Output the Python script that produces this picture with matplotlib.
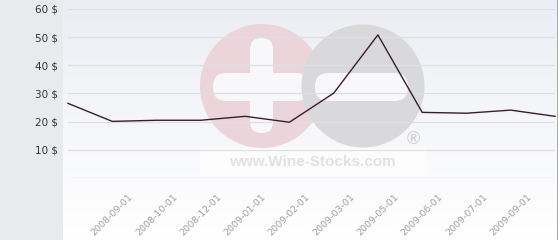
import numpy as np
import matplotlib
matplotlib.use("Agg")
import matplotlib.pyplot as plt
from matplotlib.patches import Circle, FancyBboxPatch, Rectangle

# ---- data ----
tick_labels = ['', '2008-09-01', '2008-10-01', '2008-12-01', '2009-01-01', '2009-02-01',
               '2009-03-01', '2009-05-01', '2009-06-01', '2009-07-01', '2009-09-01', '']
prices = [26.5, 20.1, 20.5, 20.5, 21.9, 19.8, 30.1, 50.8, 23.3, 23.0, 24.1, 21.9]
y_ticks = [10, 20, 30, 40, 50, 60]
y_labels = ['10 $', '20 $', '30 $', '40 $', '50 $', '60 $']

W, H = 560, 240
fig = plt.figure(figsize=(W / 100, H / 100), dpi=100)
fig.patch.set_facecolor('white')

# background layer in pixel coordinates
bg = fig.add_axes([0, 0, 1, 1], zorder=0)
bg.set_xlim(0, W)
bg.set_ylim(H, 0)
bg.axis('off')
bg.add_patch(Rectangle((0, 0), 63, H, color='#e7ebee', lw=0))
grad = np.linspace(0, 1, 256).reshape(-1, 1)
top = np.array([0.925, 0.932, 0.955])
bot = np.array([1.0, 1.0, 1.0])
img = top[None, None, :] * (1 - grad[:, :, None]) + bot[None, None, :] * grad[:, :, None]
bg.imshow(img, extent=(63, 557, 240, 0), aspect='auto', zorder=0)
bg.add_patch(Rectangle((556.5, 0), 1.6, H, color='#a9a9a9', lw=0, zorder=1))

# watermark
bg.add_patch(Rectangle((200, 148), 227, 28, color='white', alpha=0.6, lw=0, zorder=1))
bg.add_patch(Circle((262, 86), 62, color='#ebd5db', lw=0, zorder=2))
bg.add_patch(FancyBboxPatch((250 + 11, 38 + 11), 1, 95 - 22, boxstyle='round,pad=11',
                            color='#f8f8fa', lw=0, zorder=3))
bg.add_patch(FancyBboxPatch((213 + 13.5, 73 + 13.5), 97 - 27, 1, boxstyle='round,pad=13.5',
                            color='#f8f8fa', lw=0, zorder=3))
bg.add_patch(Circle((363, 86), 61.5, color='#d9d9db', lw=0, zorder=4))
bg.add_patch(FancyBboxPatch((315 + 13.5, 73 + 13.5), 93 - 27, 1, boxstyle='round,pad=13.5',
                            color='#f8f8fa', lw=0, zorder=5))
bg.text(413, 139, '®', fontsize=13, color='#d2d2d4', ha='center', va='center',
        family='Liberation Sans', fontweight='bold', zorder=5)
bg.text(312, 166, 'www.Wine-Stocks.com', fontsize=11, color='#e2e2e4', ha='center',
        va='baseline', family='Liberation Sans', fontweight='bold', zorder=5)

# main axes
x0, x1 = 68, 555
ytop, ybot = 9, 178
ax = fig.add_axes([x0 / W, (H - ybot) / H, (x1 - x0) / W, (ybot - ytop) / H], zorder=2)
ax.patch.set_alpha(0)
xs = np.arange(len(prices))
ax.set_xlim(0, len(prices) - 1)
ax.set_ylim(0, 60)
for v in [0] + y_ticks:
    ax.axhline(v, color='#dcdfe4', lw=0.9, zorder=1)
ax.plot(xs, prices, color='#3a1d2c', lw=1.0, zorder=3, clip_on=False)

for s in ax.spines.values():
    s.set_visible(False)
ax.set_yticks(y_ticks)
ax.set_yticklabels(y_labels, fontsize=7.5, color='#333333')
ax.tick_params(axis='y', length=0, pad=7)
ax.set_xticks(xs)
ax.set_xticklabels(tick_labels, rotation=45, ha='center', va='top', fontsize=6.8, color='#a0a0a0')
ax.tick_params(axis='x', length=0, pad=10)

fig.savefig('out.png', dpi=100, facecolor='white')
